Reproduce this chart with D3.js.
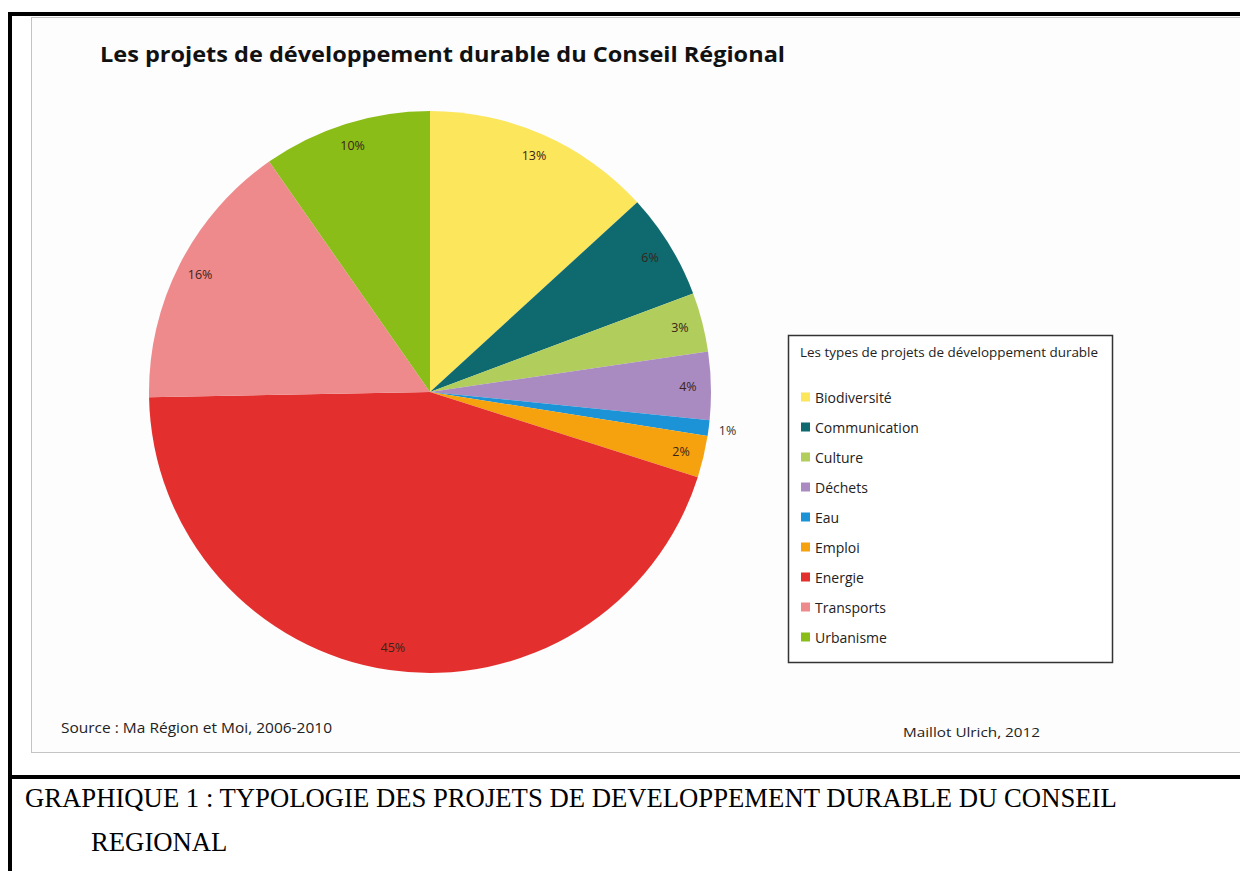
<!DOCTYPE html>
<html><head><meta charset="utf-8">
<script src="https://cdn.jsdelivr.net/npm/d3@7"></script>
<style>body{margin:0;background:#fff;}svg{display:block;}</style>
</head><body>
<svg id="c" width="1240" height="871"></svg>
<script>
const categories = ["Biodiversité","Communication","Culture","Déchets","Eau","Emploi","Energie","Transports","Urbanisme"];
const values = [13.2, 6.1, 3.4, 3.9, 0.9, 2.4, 44.8, 15.6, 9.7];
const labels = ["13%","6%","3%","4%","1%","2%","45%","16%","10%"];
const colors = ["#fce65c","#0f6a6f","#b1cd5c","#a98bc2","#1b93d6","#f5a20e","#e3302e","#ee8a8c","#8bbd18"];
const title = "Les projets de développement durable du Conseil Régional";
const legendTitle = "Les types de projets de développement durable";
const source = "Source : Ma Région et Moi, 2006-2010";
const author = "Maillot Ulrich, 2012";
const caption1 = "GRAPHIQUE 1 : TYPOLOGIE DES PROJETS DE DEVELOPPEMENT DURABLE DU CONSEIL";
const caption2 = "REGIONAL";

const svg = d3.select("#c");
const sans = "'Open Sans', 'DejaVu Sans', sans-serif";

// chart image frame
svg.append("rect").attr("x",31.5).attr("y",17.5).attr("width",1220).attr("height",735)
  .attr("fill","#fdfdfd").attr("stroke","#c4c4c4").attr("stroke-width",1);

// outer black rules
svg.append("rect").attr("x",8).attr("y",12).attr("width",1232).attr("height",4).attr("fill","#000");
svg.append("rect").attr("x",8).attr("y",12).attr("width",4).attr("height",859).attr("fill","#000");
svg.append("rect").attr("x",8).attr("y",775).attr("width",1232).attr("height",4).attr("fill","#000");

// title
svg.append("text").attr("x",100).attr("y",62).text(title)
  .attr("font-family",sans).attr("font-weight","bold").attr("font-size",21.5)
  .attr("textLength",685).attr("lengthAdjust","spacingAndGlyphs").attr("fill","#111");

// pie
const cx = 430, cy = 392, R = 281;
const pie = d3.pie().sort(null).value(d => d.v);
const data = categories.map((c,i)=>({c, v:values[i], l:labels[i], col:colors[i]}));
const arcs = pie(data);
const arc = d3.arc().innerRadius(0).outerRadius(R);
const g = svg.append("g").attr("transform",`translate(${cx},${cy})`);
g.selectAll("path").data(arcs).join("path").attr("d",arc).attr("fill",d=>d.data.col);

const labelArc = d3.arc().innerRadius(258).outerRadius(258);
const outArc = d3.arc().innerRadius(300).outerRadius(300);
g.selectAll("text.lbl").data(arcs).join("text").attr("class","lbl")
  .attr("transform",d=>{ const p = (d.data.c==="Eau"?outArc:labelArc).centroid(d); return `translate(${p[0]},${p[1]})`; })
  .attr("text-anchor","middle").attr("dominant-baseline","central")
  .attr("font-family",sans).attr("font-size",12.5)
  .attr("fill",d=>d.data.c==="Eau"?"#333":"#3a2418")
  .text(d=>d.data.l);

// legend
const lg = svg.append("g");
lg.append("rect").attr("x",788.5).attr("y",335.5).attr("width",324).attr("height",327)
  .attr("fill","#fff").attr("stroke","#333").attr("stroke-width",1.5);
lg.append("text").attr("x",800).attr("y",357).text(legendTitle)
  .attr("font-family",sans).attr("font-size",12).attr("fill","#222")
  .attr("textLength",298).attr("lengthAdjust","spacingAndGlyphs");
const ly = d3.scalePoint().domain(categories).range([397, 637]);
const items = lg.selectAll("g.it").data(data).join("g").attr("class","it")
  .attr("transform",d=>`translate(0,${ly(d.c)})`);
items.append("rect").attr("x",801).attr("y",-4.5).attr("width",9).attr("height",9).attr("fill",d=>d.col);
items.append("text").attr("x",815).attr("y",0).attr("dominant-baseline","central")
  .attr("font-family",sans).attr("font-size",14).attr("fill","#222").text(d=>d.c);

// source & author
svg.append("text").attr("x",61).attr("y",733).text(source)
  .attr("font-family",sans).attr("font-size",14.5).attr("fill","#222")
  .attr("textLength",271).attr("lengthAdjust","spacingAndGlyphs");
svg.append("text").attr("x",903).attr("y",737).text(author)
  .attr("font-family",sans).attr("font-size",13.5).attr("fill","#222")
  .attr("textLength",137).attr("lengthAdjust","spacingAndGlyphs");

// caption
const serif = "'Liberation Serif', 'Times New Roman', serif";
svg.append("text").attr("x",25).attr("y",807).text(caption1)
  .attr("font-family",serif).attr("font-size",26.7).attr("fill","#000");
svg.append("text").attr("x",91).attr("y",851).text(caption2)
  .attr("font-family",serif).attr("font-size",26.7).attr("fill","#000");
</script>
</body></html>
